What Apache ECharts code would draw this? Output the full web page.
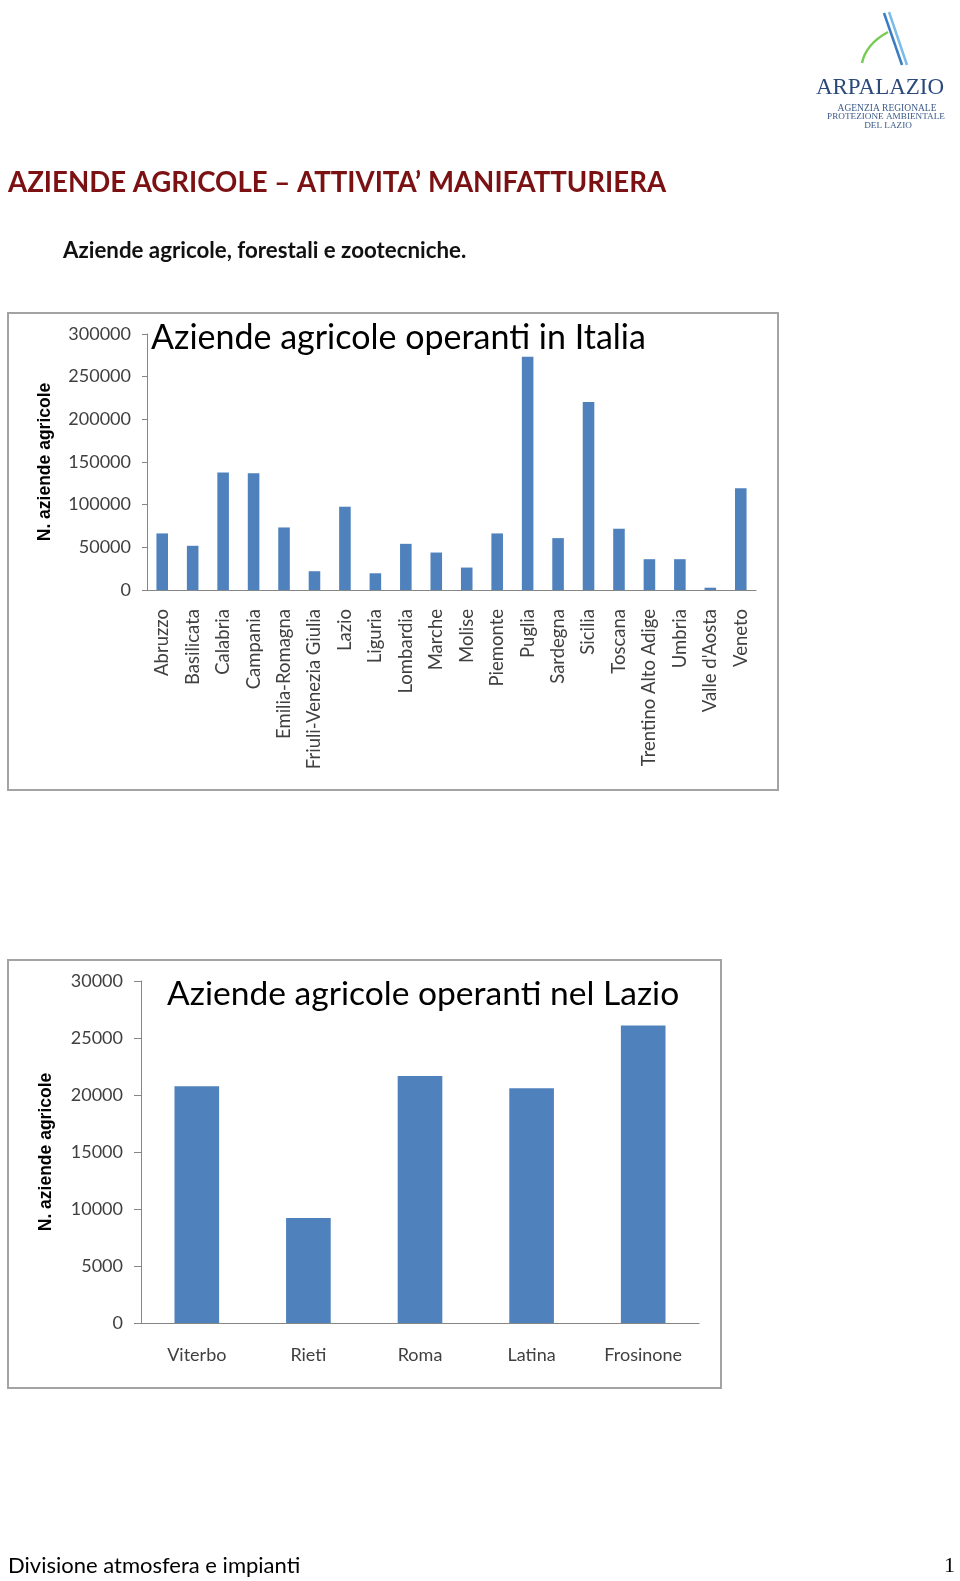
<!DOCTYPE html>
<html>
<head>
<meta charset="utf-8">
<script src="https://cdn.jsdelivr.net/npm/echarts@6/dist/echarts.min.js"></script>
<style>
  html, body { margin: 0; padding: 0; background: #fff; }
  #page { width: 960px; height: 1581px; }
</style>
</head>
<body>
<div id="page"></div>
<script>
// regioni italiane
const regioni = ['Abruzzo', 'Basilicata', 'Calabria', 'Campania', 'Emilia-Romagna',
  'Friuli-Venezia Giulia', 'Lazio', 'Liguria', 'Lombardia', 'Marche', 'Molise',
  'Piemonte', 'Puglia', 'Sardegna', 'Sicilia', 'Toscana', 'Trentino Alto Adige',
  'Umbria', "Valle d'Aosta", 'Veneto']
const aziendeItalia = [66300, 51800, 137600, 136900, 73300, 22000, 97600, 19600,
  54100, 43900, 26300, 66300, 273300, 60800, 220400, 71800, 36100, 36100, 2700, 119200]

// province del Lazio
const province = ['Viterbo', 'Rieti', 'Roma', 'Latina', 'Frosinone']
const aziendeLazio = [20760, 9210, 21670, 20590, 26100]

const sans = 'Lato, "Open Sans", sans-serif'
const axisGray = '#868686'
const labelGray = '#404040'
const barColor = '#4f81bd'
const plain = (v) => String(v) // niente separatore delle migliaia

const chart = echarts.init(document.getElementById('page'))

chart.setOption({
  animation: false,
  title: [
    {
      text: 'AZIENDE AGRICOLE – ATTIVITA’ MANIFATTURIERA',
      left: 8, top: 169, padding: 0,
      textStyle: { fontFamily: sans, fontSize: 27.6, fontWeight: 'bold', color: '#7b1113' }
    },
    {
      text: 'Aziende agricole, forestali e zootecniche.',
      left: 63, top: 240, padding: 0,
      textStyle: { fontFamily: sans, fontSize: 22.3, fontWeight: 'bold', color: '#111' }
    },
    {
      text: 'Aziende agricole operanti in Italia',
      left: 151, top: 321, padding: 0,
      textStyle: { fontFamily: sans, fontSize: 34, fontWeight: 'normal', color: '#000' }
    },
    {
      text: 'Aziende agricole operanti nel Lazio',
      left: 167, top: 977, padding: 0,
      textStyle: { fontFamily: sans, fontSize: 33.6, fontWeight: 'normal', color: '#000' }
    },
    {
      text: 'Divisione atmosfera e impianti',
      left: 8, top: 1555, padding: 0,
      textStyle: { fontFamily: sans, fontSize: 22, fontWeight: 'normal', color: '#000' }
    },
    {
      text: '1',
      left: 944, top: 1555, padding: 0,
      textStyle: { fontFamily: '"Liberation Serif", serif', fontSize: 22, fontWeight: 'normal', color: '#000' }
    }
  ],
  grid: [
    { left: 147, top: 334, width: 609, height: 256 },
    { left: 141, top: 981, width: 558, height: 342 }
  ],
  xAxis: [
    {
      gridIndex: 0,
      type: 'category',
      data: regioni,
      axisLine: { lineStyle: { color: axisGray } },
      axisTick: { length: 5, lineStyle: { color: axisGray } },
      axisLabel: { rotate: 90, margin: 19, fontFamily: sans, fontSize: 18.5, color: labelGray, interval: 0 }
    },
    {
      gridIndex: 1,
      type: 'category',
      data: province,
      axisLine: { lineStyle: { color: axisGray } },
      axisTick: { length: 7, lineStyle: { color: axisGray } },
      axisLabel: { margin: 23, fontFamily: sans, fontSize: 18, color: labelGray, interval: 0 }
    }
  ],
  yAxis: [
    {
      gridIndex: 0,
      type: 'value',
      min: 0, max: 300000, interval: 50000,
      name: 'N. aziende agricole',
      nameLocation: 'middle',
      nameGap: 93,
      nameTextStyle: { fontFamily: '"Liberation Sans", Arial, sans-serif', fontSize: 17.5, fontWeight: 'bold', color: '#000' },
      axisLine: { show: true, lineStyle: { color: axisGray } },
      axisTick: { show: true, length: 5, lineStyle: { color: axisGray } },
      splitLine: { show: false },
      axisLabel: { margin: 16, fontFamily: sans, fontSize: 18, color: labelGray, formatter: plain }
    },
    {
      gridIndex: 1,
      type: 'value',
      min: 0, max: 30000, interval: 5000,
      name: 'N. aziende agricole',
      nameLocation: 'middle',
      nameGap: 86,
      nameTextStyle: { fontFamily: '"Liberation Sans", Arial, sans-serif', fontSize: 17.5, fontWeight: 'bold', color: '#000' },
      axisLine: { show: true, lineStyle: { color: axisGray } },
      axisTick: { show: true, length: 7, lineStyle: { color: axisGray } },
      splitLine: { show: false },
      axisLabel: { margin: 18, fontFamily: sans, fontSize: 18, color: labelGray, formatter: plain }
    }
  ],
  series: [
    {
      type: 'bar', xAxisIndex: 0, yAxisIndex: 0,
      data: aziendeItalia, barWidth: '38%',
      itemStyle: { color: barColor }
    },
    {
      type: 'bar', xAxisIndex: 1, yAxisIndex: 1,
      data: aziendeLazio, barWidth: '40%',
      itemStyle: { color: barColor }
    }
  ],
  graphic: [
    // cornici dei grafici
    { type: 'rect', shape: { x: 8, y: 313, width: 770, height: 477 }, style: { fill: 'none', stroke: '#a3a3a3', lineWidth: 2 } },
    { type: 'rect', shape: { x: 8, y: 960, width: 713, height: 428 }, style: { fill: 'none', stroke: '#a3a3a3', lineWidth: 2 } },
    // logo ARPALAZIO
    { type: 'line', shape: { x1: 884, y1: 13, x2: 902, y2: 65 }, style: { stroke: '#3a7cc2', lineWidth: 2.5 } },
    { type: 'line', shape: { x1: 889, y1: 12, x2: 907, y2: 65 }, style: { stroke: '#7dbce8', lineWidth: 2.5 } },
    { type: 'bezierCurve', shape: { x1: 862, y1: 63, cpx1: 866, cpy1: 44, x2: 888, y2: 32 }, style: { stroke: '#78cc55', lineWidth: 2.5, fill: 'none' } },
    { type: 'text', x: 880, y: 88, style: { text: 'ARPALAZIO', font: '23px "Liberation Serif", serif', fill: '#2b4a7a', align: 'center', verticalAlign: 'middle' } },
    { type: 'text', x: 887, y: 108, style: { text: 'AGENZIA REGIONALE', font: '9.5px "Liberation Serif", serif', fill: '#3a5a88', align: 'center', verticalAlign: 'middle' } },
    { type: 'text', x: 886, y: 117, style: { text: 'PROTEZIONE AMBIENTALE', font: '9.2px "Liberation Serif", serif', fill: '#3a5a88', align: 'center', verticalAlign: 'middle' } },
    { type: 'text', x: 888, y: 126, style: { text: 'DEL LAZIO', font: '9.2px "Liberation Serif", serif', fill: '#3a5a88', align: 'center', verticalAlign: 'middle' } }
  ]
})
</script>
</body>
</html>
